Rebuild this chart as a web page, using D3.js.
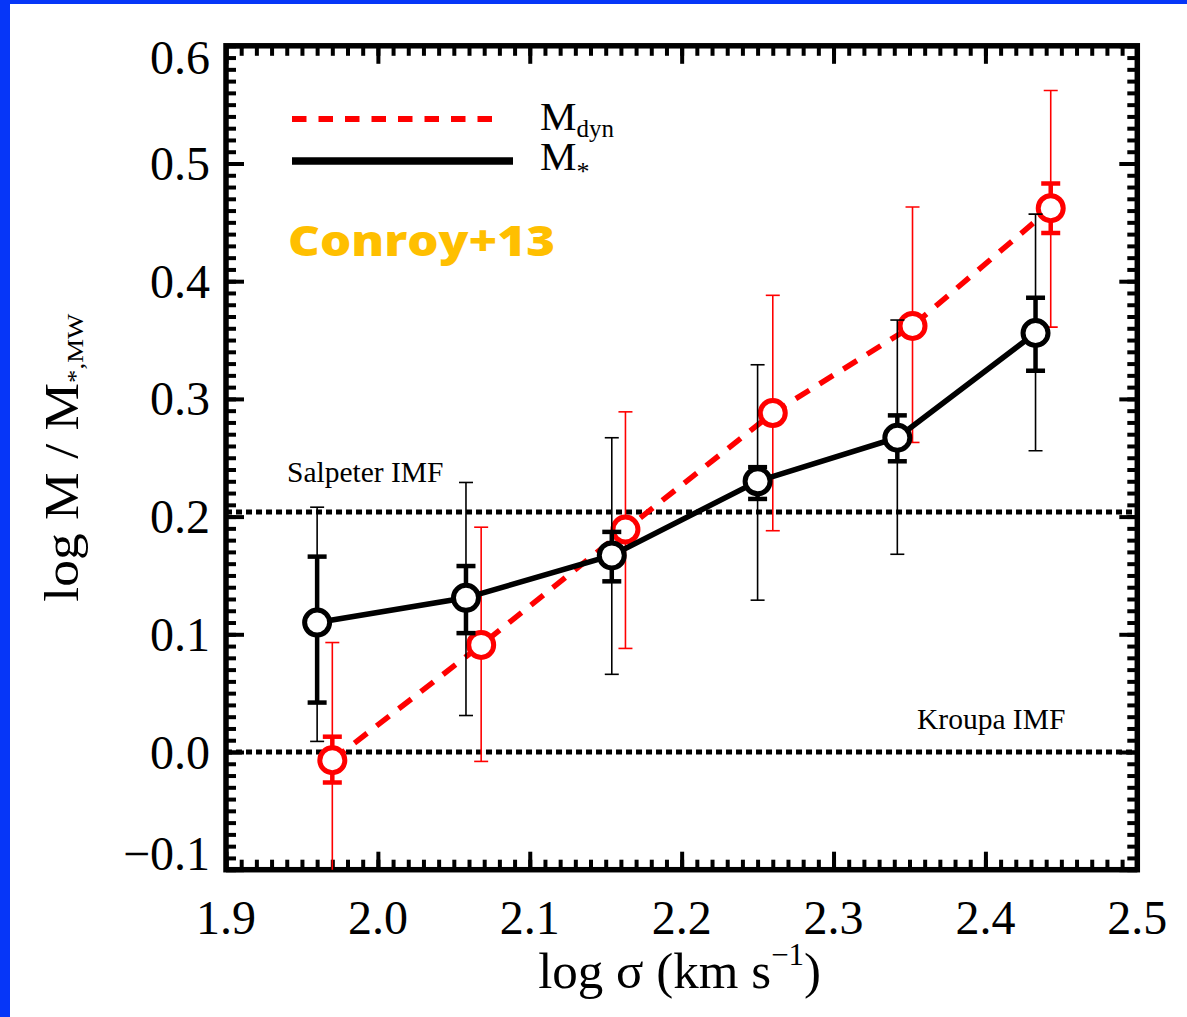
<!DOCTYPE html>
<html><head><meta charset="utf-8">
<script src="https://cdn.jsdelivr.net/npm/d3@7"></script>
<style>html,body{margin:0;padding:0;background:#fff;overflow:hidden}</style>
</head><body>
<svg id="c" width="1187" height="1017"></svg>
<script>
// ---- data ----
const xTicks = [1.9, 2.0, 2.1, 2.2, 2.3, 2.4, 2.5];
const xTickLabels = ["1.9", "2.0", "2.1", "2.2", "2.3", "2.4", "2.5"];
const yTicks = [-0.1, 0.0, 0.1, 0.2, 0.3, 0.4, 0.5, 0.6];
const yTickLabels = ["\u22120.1", "0.0", "0.1", "0.2", "0.3", "0.4", "0.5", "0.6"];

// M_* (black)
const starSigma   = [1.960, 2.058, 2.154, 2.250, 2.342, 2.433];
const starVal     = [0.110, 0.131, 0.167, 0.230, 0.267, 0.356];
const starThinHi  = [0.208, 0.229, 0.267, 0.329, 0.367, 0.457];
const starThinLo  = [0.009, 0.031, 0.066, 0.129, 0.168, 0.256];
const starThickHi = [0.166, 0.158, 0.187, 0.242, 0.286, 0.386];
const starThickLo = [0.042, 0.101, 0.145, 0.215, 0.247, 0.324];

// M_dyn (red)
const dynSigma    = [1.970, 2.068, 2.163, 2.260, 2.352, 2.443];
const dynVal      = [-0.007, 0.091, 0.189, 0.288, 0.362, 0.462];
const dynThinHi   = [0.093, 0.191, 0.289, 0.388, 0.463, 0.562];
const dynThinLo   = [-0.107, -0.008, 0.088, 0.188, 0.263, 0.361];
const dynThickHi  = [0.013, 0.096, 0.194, 0.293, 0.367, 0.483];
const dynThickLo  = [-0.026, 0.086, 0.184, 0.283, 0.357, 0.441];

const salpeterLevel = 0.204;
const kroupaLevel = 0.0;

// ---- layout ----
const svg = d3.select("#c");
const L = 226, R = 1137.3, T = 45.8, B = 869.7;
const x = d3.scaleLinear().domain([1.9, 2.5]).range([L, R]);
const y = d3.scaleLinear().domain([-0.1, 0.6]).range([B, T]);
const serif = "'Liberation Serif','Times New Roman',Times,serif";

// slide frame
svg.append("rect").attr("x", 0).attr("y", 0).attr("width", 1187).attr("height", 1017).attr("fill", "#fff");
svg.append("rect").attr("x", 0).attr("y", 0).attr("width", 10).attr("height", 1017).attr("fill", "#0636f8");
svg.append("rect").attr("x", 0).attr("y", 0).attr("width", 1187).attr("height", 4).attr("fill", "#0636f8");

// clip
svg.append("clipPath").attr("id", "clip").append("rect")
  .attr("x", L).attr("y", T).attr("width", R - L).attr("height", B - T);

// axes ticks
const minorX = d3.range(190, 251).map(v => v / 100);
const minorY = d3.range(-10, 61).map(v => v / 100);
function styleAxis(g) {
  g.select(".domain").remove();
  g.selectAll(".tick line").attr("stroke", "#000").attr("stroke-width", 4);
  g.selectAll(".tick text").remove();
}
const axes = [
  [d3.axisBottom, `translate(0,${B})`, x, minorX, xTicks],
  [d3.axisTop, `translate(0,${T})`, x, minorX, xTicks],
  [d3.axisLeft, `translate(${L},0)`, y, minorY, yTicks],
  [d3.axisRight, `translate(${R},0)`, y, minorY, yTicks]
];
axes.forEach(([fn, tr, sc, minor, major]) => {
  svg.append("g").attr("transform", tr)
    .call(fn(sc).tickValues(minor).tickSize(-10).tickFormat(""))
    .call(styleAxis);
  svg.append("g").attr("transform", tr)
    .call(fn(sc).tickValues(major).tickSize(-18).tickFormat(""))
    .call(styleAxis);
});
svg.append("rect").attr("x", L).attr("y", T).attr("width", R - L).attr("height", B - T)
  .attr("fill", "none").attr("stroke", "#000").attr("stroke-width", 5.5);

// tick labels
svg.append("g").selectAll("text").data(xTicks).join("text")
  .attr("x", d => x(d)).attr("y", 934)
  .attr("text-anchor", "middle").attr("font-family", serif).attr("font-size", 48)
  .attr("fill", "#000").text((d, i) => xTickLabels[i]);
svg.append("g").selectAll("text").data(yTicks).join("text")
  .attr("x", 210)
  .attr("y", (d, i) => {
    const c = Math.min(Math.max(y(d), T + 12), B - 16);
    return c + 16.5;
  })
  .attr("text-anchor", "end").attr("font-family", serif).attr("font-size", 48)
  .attr("fill", "#000").text((d, i) => yTickLabels[i]);

// axis titles
const xt = svg.append("text").attr("x", (L + R) / 2 - 2).attr("y", 988)
  .attr("text-anchor", "middle").attr("font-family", serif).attr("font-size", 51).attr("fill", "#000");
xt.append("tspan").text("log \u03c3 (km s");
xt.append("tspan").attr("font-size", 31).attr("dy", -23).text("\u22121");
xt.append("tspan").attr("dy", 23).text(")");

const yt = svg.append("text").attr("transform", `translate(78,${(T + B) / 2}) rotate(-90)`)
  .attr("text-anchor", "middle").attr("font-family", serif).attr("font-size", 48).attr("fill", "#000")
  .attr("textLength", 288).attr("lengthAdjust", "spacingAndGlyphs");
yt.append("tspan").text("log M / M");
yt.append("tspan").attr("font-size", 24).attr("dy", 5).text("*,MW");

// reference lines
[salpeterLevel, kroupaLevel].forEach(v => {
  svg.append("line").attr("x1", L).attr("x2", R).attr("y1", y(v)).attr("y2", y(v))
    .attr("stroke", "#000").attr("stroke-width", 5).attr("stroke-dasharray", "6,4");
});
svg.append("text").attr("x", 287).attr("y", 482).attr("font-family", serif).attr("font-size", 29.5)
  .attr("fill", "#000").text("Salpeter IMF");
svg.append("text").attr("x", 917).attr("y", 729).attr("font-family", serif).attr("font-size", 29.5)
  .attr("fill", "#000").text("Kroupa IMF");

// series drawing
const plot = svg.append("g").attr("clip-path", "url(#clip)");
function drawSeries(sig, val, thinHi, thinLo, thickHi, thickLo, color, dash, lineW) {
  const pts = sig.map((s, i) => [x(s), y(val[i])]);
  plot.append("path").attr("d", d3.line()(pts)).attr("fill", "none")
    .attr("stroke", color).attr("stroke-width", lineW)
    .attr("stroke-dasharray", dash || null);
  const g = plot.append("g");
  sig.forEach((s, i) => {
    const cx = x(s);
    g.append("line").attr("x1", cx).attr("x2", cx).attr("y1", y(thinHi[i])).attr("y2", y(thinLo[i]))
      .attr("stroke", color).attr("stroke-width", 1.6);
    [thinHi[i], thinLo[i]].forEach(v => g.append("line").attr("x1", cx - 7).attr("x2", cx + 7)
      .attr("y1", y(v)).attr("y2", y(v)).attr("stroke", color).attr("stroke-width", 1.6));
    g.append("line").attr("x1", cx).attr("x2", cx).attr("y1", y(thickHi[i])).attr("y2", y(thickLo[i]))
      .attr("stroke", color).attr("stroke-width", 4.5);
    [thickHi[i], thickLo[i]].forEach(v => g.append("line").attr("x1", cx - 9.5).attr("x2", cx + 9.5)
      .attr("y1", y(v)).attr("y2", y(v)).attr("stroke", color).attr("stroke-width", 4.5));
  });
  g.selectAll("circle").data(sig).join("circle")
    .attr("cx", d => x(d)).attr("cy", (d, i) => y(val[i])).attr("r", 12.5)
    .attr("fill", "#fff").attr("stroke", color).attr("stroke-width", 5);
}
drawSeries(dynSigma, dynVal, dynThinHi, dynThinLo, dynThickHi, dynThickLo, "#ff0000", "16,12", 5.5);
drawSeries(starSigma, starVal, starThinHi, starThinLo, starThickHi, starThickLo, "#000000", null, 5.5);

// legend
svg.append("line").attr("x1", 292).attr("x2", 503).attr("y1", 119).attr("y2", 119)
  .attr("stroke", "#ff0000").attr("stroke-width", 6).attr("stroke-dasharray", "14.5,12");
svg.append("line").attr("x1", 292).attr("x2", 513).attr("y1", 161).attr("y2", 161)
  .attr("stroke", "#000").attr("stroke-width", 7.5);
const l1 = svg.append("text").attr("x", 540).attr("y", 130).attr("font-family", serif).attr("font-size", 41).attr("fill", "#000");
l1.append("tspan").text("M");
l1.append("tspan").attr("font-size", 25).attr("dy", 7).text("dyn");
const l2 = svg.append("text").attr("x", 540).attr("y", 170).attr("font-family", serif).attr("font-size", 41).attr("fill", "#000");
l2.append("tspan").text("M");
l2.append("tspan").attr("font-size", 26).attr("dy", 10).text("*");

// annotation
svg.append("text").attr("x", 288).attr("y", 256).attr("font-family", "'Open Sans','Noto Sans',sans-serif")
  .attr("font-weight", 800).attr("font-size", 42).attr("fill", "#ffbf00")
  .attr("textLength", 267).attr("lengthAdjust", "spacingAndGlyphs").text("Conroy+13");
</script>
</body></html>
